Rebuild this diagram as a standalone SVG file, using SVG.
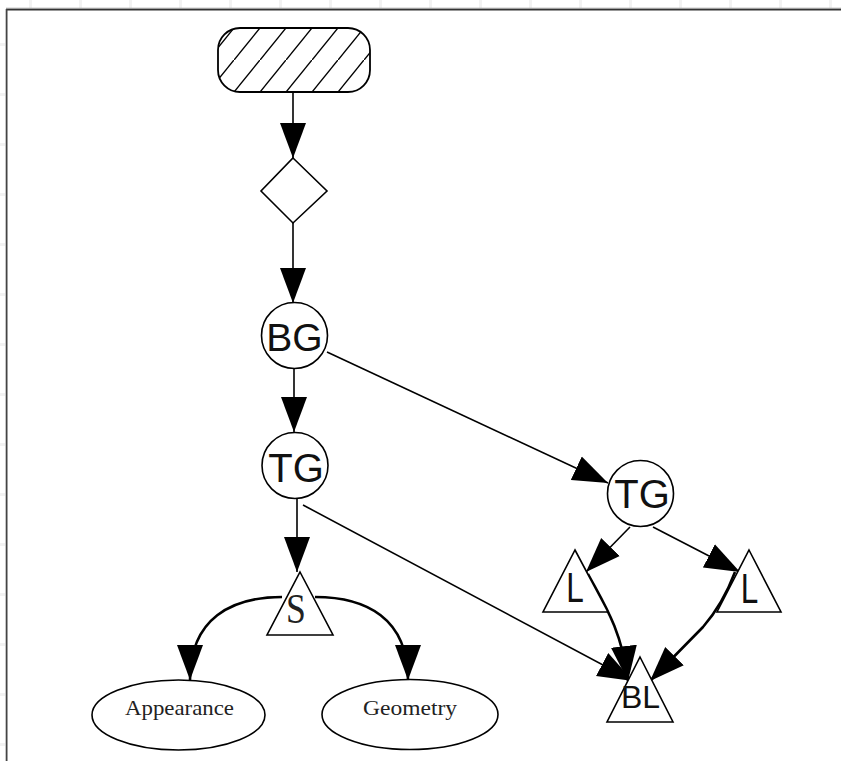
<svg xmlns="http://www.w3.org/2000/svg" width="841" height="761" viewBox="0 0 841 761">
<style>
.node{fill:#fff;stroke:#000;stroke-width:1.6}
.edge{fill:none;stroke:#000;stroke-width:1.6}
.thick{stroke-width:2.6}
.sans{font-family:"Liberation Sans",Arial,sans-serif;fill:#111;text-anchor:middle}
.serif{font-family:"Liberation Serif","Times New Roman",serif;fill:#222;text-anchor:middle}
.tick{fill:#f2f2f2}
</style>
<defs>
<pattern id="hatch" patternUnits="userSpaceOnUse" width="26" height="32" x="0" y="28">
<rect width="26" height="32" fill="#fff"/>
<path d="M-2,34.5 L28,-2.5" stroke="#000" stroke-width="1.4"/>
</pattern>
<marker id="arr" markerUnits="userSpaceOnUse" markerWidth="36" markerHeight="28" refX="35" refY="13" orient="auto" viewBox="0 0 36 26">
<path d="M0,0 L35,13 L0,26 Z" fill="#000"/>
</marker>
</defs>
<rect width="841" height="761" fill="#fff"/>
<g id="grid">
<rect class="tick" x="29" y="0" width="3" height="8"/><rect class="tick" x="79" y="0" width="3" height="8"/><rect class="tick" x="129" y="0" width="3" height="8"/><rect class="tick" x="179" y="0" width="3" height="8"/><rect class="tick" x="229" y="0" width="3" height="8"/><rect class="tick" x="279" y="0" width="3" height="8"/><rect class="tick" x="329" y="0" width="3" height="8"/><rect class="tick" x="379" y="0" width="3" height="8"/><rect class="tick" x="429" y="0" width="3" height="8"/><rect class="tick" x="479" y="0" width="3" height="8"/><rect class="tick" x="529" y="0" width="3" height="8"/><rect class="tick" x="579" y="0" width="3" height="8"/><rect class="tick" x="629" y="0" width="3" height="8"/><rect class="tick" x="679" y="0" width="3" height="8"/><rect class="tick" x="729" y="0" width="3" height="8"/><rect class="tick" x="779" y="0" width="3" height="8"/><rect class="tick" x="829" y="0" width="3" height="8"/>
<rect class="tick" x="0" y="43" width="5" height="3"/><rect class="tick" x="0" y="93" width="5" height="3"/><rect class="tick" x="0" y="143" width="5" height="3"/><rect class="tick" x="0" y="193" width="5" height="3"/><rect class="tick" x="0" y="243" width="5" height="3"/><rect class="tick" x="0" y="293" width="5" height="3"/><rect class="tick" x="0" y="343" width="5" height="3"/><rect class="tick" x="0" y="393" width="5" height="3"/><rect class="tick" x="0" y="443" width="5" height="3"/><rect class="tick" x="0" y="493" width="5" height="3"/><rect class="tick" x="0" y="543" width="5" height="3"/><rect class="tick" x="0" y="593" width="5" height="3"/><rect class="tick" x="0" y="643" width="5" height="3"/><rect class="tick" x="0" y="693" width="5" height="3"/><rect class="tick" x="0" y="743" width="5" height="3"/>
</g>
<g id="frame">
<line x1="6" y1="8.2" x2="841" y2="8.2" stroke="#aaa" stroke-width="1"/>
<line x1="6" y1="9.6" x2="841" y2="9.6" stroke="#333" stroke-width="1.6"/>
<line x1="6.6" y1="9" x2="6.6" y2="761" stroke="#444" stroke-width="1.8"/>
</g>
<g id="edges">
<path class="edge" d="M293,92 L293,158" marker-end="url(#arr)"/>
<path class="edge" d="M293,222 L293,303" marker-end="url(#arr)"/>
<path class="edge" d="M294,368 L294,432" marker-end="url(#arr)"/>
<path class="edge" d="M327,352 L608,483" marker-end="url(#arr)"/>
<path class="edge" d="M297,498 L297,572" marker-end="url(#arr)"/>
<path class="edge" d="M303,505 L633,681" marker-end="url(#arr)"/>
<path class="edge thick" d="M282,597 C232,597 190,618 190,680" marker-end="url(#arr)"/>
<path class="edge thick" d="M315,597 C366,597 408,618 408,680" marker-end="url(#arr)"/>
<path class="edge" d="M630,527 L586,572" marker-end="url(#arr)"/>
<path class="edge" d="M653,527 L740,572" marker-end="url(#arr)"/>
<path class="edge thick" d="M588,574 C603,602 622,630 628,681" marker-end="url(#arr)"/>
<path class="edge thick" d="M735,572 C726,596 716,612 703,627 L650,681" marker-end="url(#arr)"/>
</g>
<g id="start">
<rect x="218" y="28" width="152" height="64" rx="22" ry="22" fill="url(#hatch)" stroke="#000" stroke-width="1.8"/>
</g>
<g id="decision">
<polygon class="node" points="293,158 327,191 293,223 261,191"/>
</g>
<g id="bg">
<circle class="node" cx="294.5" cy="335.5" r="33"/>
<text class="sans" x="294.5" y="350.5" font-size="39">BG</text>
</g>
<g id="tg1">
<circle class="node" cx="295" cy="465.5" r="33"/>
<text class="sans" x="296" y="481.5" font-size="40">TG</text>
</g>
<g id="tg2">
<circle class="node" cx="640.5" cy="493.5" r="33"/>
<text class="sans" x="642" y="508" font-size="40">TG</text>
</g>
<g id="s">
<polygon class="node" points="300,572 333,635 267,635"/>
<text class="serif" transform="translate(296,623) scale(0.85,1)" x="0" y="0" font-size="42" fill="#111">S</text>
</g>
<g id="l1">
<polygon class="node" points="575,550 608,612 543,612"/>
<text class="sans" transform="translate(575,602) scale(0.75,1)" x="0" y="0" font-size="42">L</text>
</g>
<g id="l2">
<polygon class="node" points="749,550 781,612 717,612"/>
<text class="sans" transform="translate(749.5,603) scale(0.75,1)" x="0" y="0" font-size="42">L</text>
</g>
<g id="bl">
<polygon class="node" points="640,657 673,722 607,722"/>
<text class="sans" x="640.5" y="708" font-size="32">BL</text>
</g>
<g id="appearance">
<ellipse class="node" cx="178.5" cy="715" rx="86.5" ry="35"/>
<text class="serif" x="179.5" y="715" font-size="22" textLength="109" lengthAdjust="spacingAndGlyphs">Appearance</text>
</g>
<g id="geometry">
<ellipse class="node" cx="410" cy="714.5" rx="88" ry="35"/>
<text class="serif" x="410" y="715" font-size="22" textLength="94" lengthAdjust="spacingAndGlyphs">Geometry</text>
</g>
</svg>
